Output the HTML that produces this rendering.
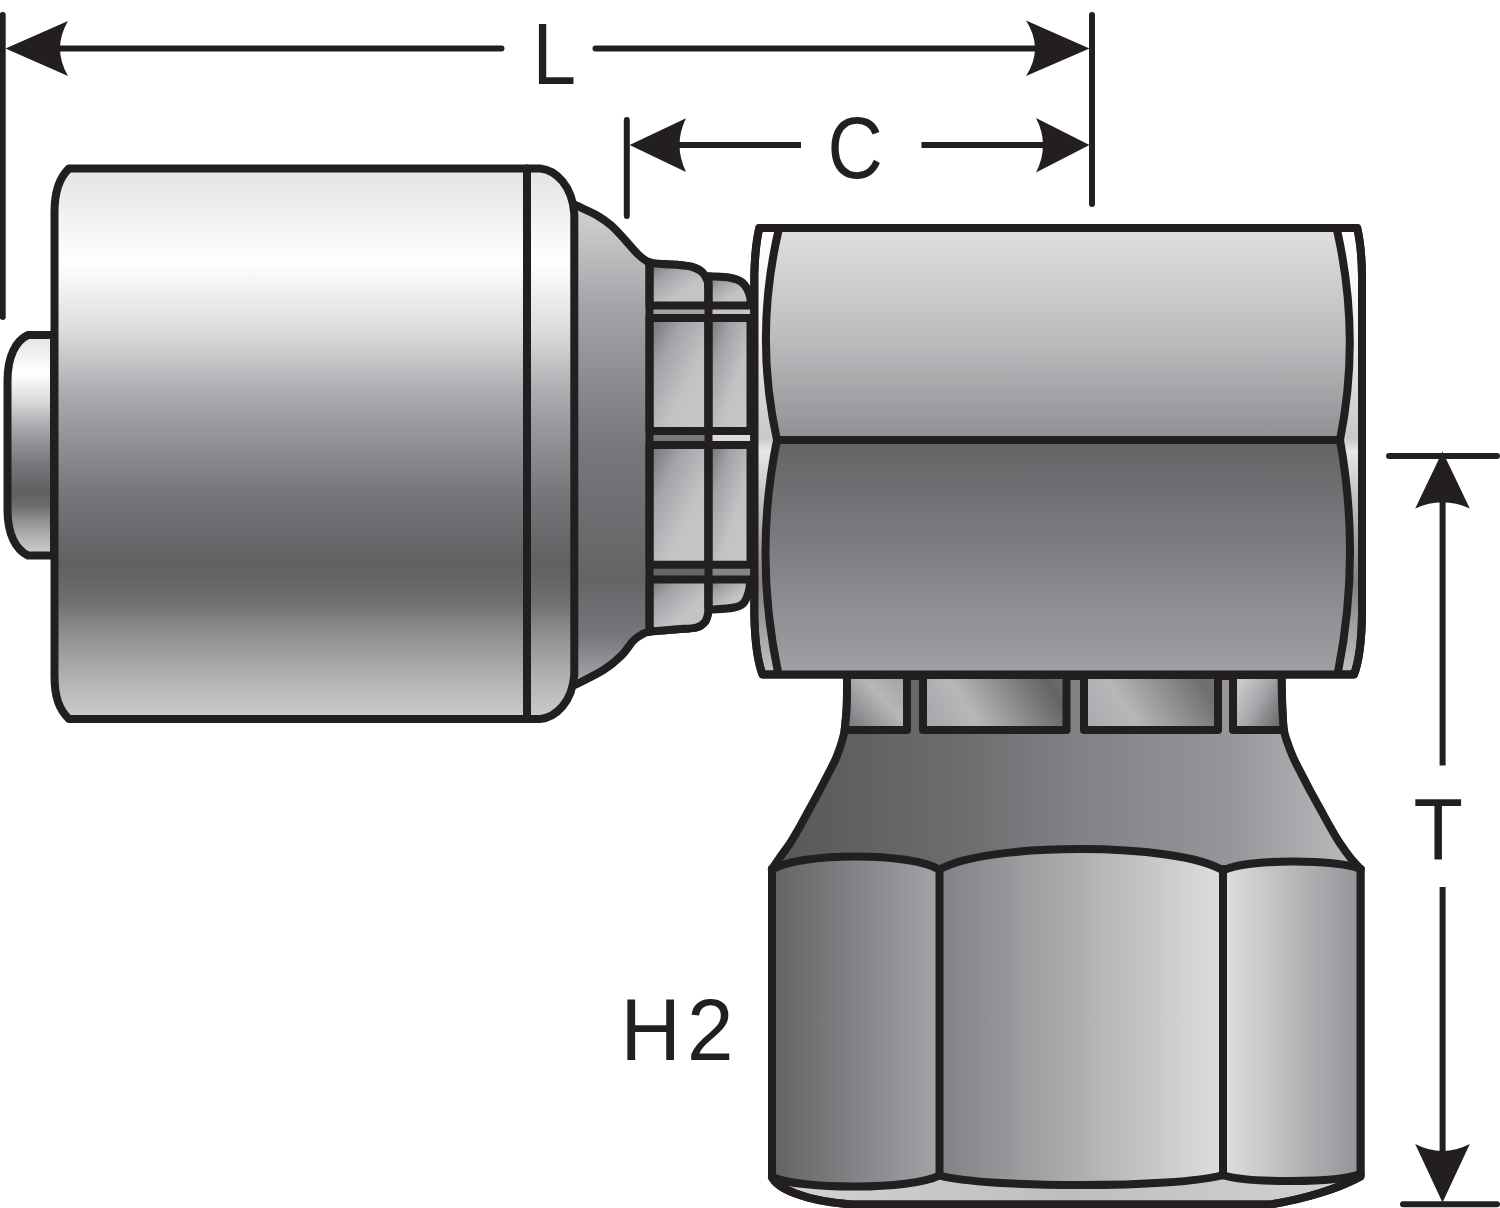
<!DOCTYPE html>
<html lang="en">
<head>
<meta charset="utf-8">
<title>Hydraulic fitting dimension diagram</title>
<style>
  html, body { margin: 0; padding: 0; background: #ffffff; }
  body { width: 1500px; height: 1208px; overflow: hidden; font-family: "Liberation Sans", sans-serif; }
  svg { display: block; }
  .o { stroke: #231f20; stroke-width: 8; stroke-linejoin: round; stroke-linecap: round; }
  .ol { fill: none; stroke: #231f20; stroke-width: 8; stroke-linejoin: round; stroke-linecap: round; }
  .d { fill: none; stroke: #231f20; stroke-width: 6; stroke-linecap: round; }
  .db { fill: none; stroke: #231f20; stroke-width: 6; stroke-linecap: butt; }
  .a { fill: #231f20; stroke: none; }
  text { font-family: "Liberation Sans", sans-serif; fill: #231f20; }
</style>
</head>
<body>
<svg width="1500" height="1208" viewBox="0 0 1500 1208">
<defs>
  <!-- ferrule: cylinder shading -->
  <linearGradient id="gFer" gradientUnits="userSpaceOnUse" x1="0" y1="170" x2="0" y2="718">
    <stop offset="0" stop-color="#e3e4e5"/>
    <stop offset="0.166" stop-color="#ffffff"/>
    <stop offset="0.29" stop-color="#dcddde"/>
    <stop offset="0.41" stop-color="#a9abae"/>
    <stop offset="0.50" stop-color="#8e9093"/>
    <stop offset="0.585" stop-color="#77787b"/>
    <stop offset="0.72" stop-color="#5f6062"/>
    <stop offset="0.785" stop-color="#6d6e70"/>
    <stop offset="0.84" stop-color="#8a8c8e"/>
    <stop offset="0.93" stop-color="#b1b3b5"/>
    <stop offset="1" stop-color="#cbcccd"/>
  </linearGradient>
  <linearGradient id="gStub" gradientUnits="userSpaceOnUse" x1="0" y1="337" x2="0" y2="553">
    <stop offset="0" stop-color="#e3e4e5"/>
    <stop offset="0.166" stop-color="#ffffff"/>
    <stop offset="0.29" stop-color="#dcddde"/>
    <stop offset="0.41" stop-color="#a9abae"/>
    <stop offset="0.50" stop-color="#8e9093"/>
    <stop offset="0.585" stop-color="#77787b"/>
    <stop offset="0.72" stop-color="#5f6062"/>
    <stop offset="0.785" stop-color="#6d6e70"/>
    <stop offset="0.84" stop-color="#8a8c8e"/>
    <stop offset="0.93" stop-color="#b1b3b5"/>
    <stop offset="1" stop-color="#cbcccd"/>
  </linearGradient>
  <linearGradient id="gCone" gradientUnits="userSpaceOnUse" x1="0" y1="205" x2="0" y2="684">
    <stop offset="0" stop-color="#d1d3d4"/>
    <stop offset="0.22" stop-color="#a1a3a6"/>
    <stop offset="0.5" stop-color="#77787b"/>
    <stop offset="0.78" stop-color="#636466"/>
    <stop offset="0.9" stop-color="#77787b"/>
    <stop offset="1" stop-color="#a7a9ac"/>
  </linearGradient>
  <linearGradient id="gBack2" gradientUnits="userSpaceOnUse" x1="0" y1="276" x2="0" y2="610">
    <stop offset="0" stop-color="#bcbec0"/>
    <stop offset="0.48" stop-color="#dcddde"/>
    <stop offset="0.9" stop-color="#808285"/>
    <stop offset="1" stop-color="#a7a9ac"/>
  </linearGradient>
  <!-- diagonal metallic for collars -->
  <linearGradient id="gCol" x1="0" y1="0" x2="1" y2="1">
    <stop offset="0" stop-color="#6d6e70"/>
    <stop offset="0.28" stop-color="#a1a3a6"/>
    <stop offset="0.62" stop-color="#c1c3c5"/>
    <stop offset="1" stop-color="#c4c6c8"/>
  </linearGradient>
  <linearGradient id="gS1" gradientUnits="userSpaceOnUse" x1="851" y1="730" x2="905" y2="680">
    <stop offset="0" stop-color="#77787b"/>
    <stop offset="0.6" stop-color="#b5b7b9"/>
    <stop offset="1" stop-color="#a1a3a6"/>
  </linearGradient>
  <linearGradient id="gS2" gradientUnits="userSpaceOnUse" x1="927" y1="740" x2="1050" y2="660">
    <stop offset="0" stop-color="#a1a3a6"/>
    <stop offset="0.35" stop-color="#b5b7b9"/>
    <stop offset="0.9" stop-color="#636466"/>
    <stop offset="1" stop-color="#6d6e70"/>
  </linearGradient>
  <linearGradient id="gS3" gradientUnits="userSpaceOnUse" x1="1088" y1="740" x2="1205" y2="660">
    <stop offset="0" stop-color="#a7a9ac"/>
    <stop offset="0.35" stop-color="#b5b7b9"/>
    <stop offset="0.9" stop-color="#6d6e70"/>
    <stop offset="1" stop-color="#77787b"/>
  </linearGradient>
  <linearGradient id="gS4" gradientUnits="userSpaceOnUse" x1="1237" y1="690" x2="1282" y2="715">
    <stop offset="0" stop-color="#c7c8ca"/>
    <stop offset="0.45" stop-color="#a7a9ac"/>
    <stop offset="1" stop-color="#6d6e70"/>
  </linearGradient>
  <!-- horizontal hex -->
  <linearGradient id="gHexSide" gradientUnits="userSpaceOnUse" x1="0" y1="232" x2="0" y2="670">
    <stop offset="0" stop-color="#ffffff"/>
    <stop offset="0.2" stop-color="#f1f2f2"/>
    <stop offset="0.47" stop-color="#c7c8ca"/>
    <stop offset="0.5" stop-color="#e6e7e8"/>
    <stop offset="0.8" stop-color="#808285"/>
    <stop offset="1" stop-color="#bcbec0"/>
  </linearGradient>
  <linearGradient id="gHexUp" gradientUnits="userSpaceOnUse" x1="0" y1="232" x2="0" y2="436">
    <stop offset="0" stop-color="#dcddde"/>
    <stop offset="0.5" stop-color="#bcbec0"/>
    <stop offset="1" stop-color="#909295"/>
  </linearGradient>
  <linearGradient id="gHexLo" gradientUnits="userSpaceOnUse" x1="0" y1="444" x2="0" y2="670">
    <stop offset="0" stop-color="#636466"/>
    <stop offset="0.5" stop-color="#7e8083"/>
    <stop offset="1" stop-color="#9ea0a3"/>
  </linearGradient>
  <!-- vertical stem & nut -->
  <linearGradient id="gStem" gradientUnits="userSpaceOnUse" x1="790" y1="0" x2="1345" y2="0">
    <stop offset="0" stop-color="#58595b"/>
    <stop offset="0.32" stop-color="#6d6e70"/>
    <stop offset="0.52" stop-color="#808285"/>
    <stop offset="0.78" stop-color="#939598"/>
    <stop offset="1" stop-color="#b5b7b9"/>
  </linearGradient>
  <linearGradient id="gNutL" gradientUnits="userSpaceOnUse" x1="776" y1="0" x2="936" y2="0">
    <stop offset="0" stop-color="#636466"/>
    <stop offset="1" stop-color="#a1a3a6"/>
  </linearGradient>
  <linearGradient id="gNutM" gradientUnits="userSpaceOnUse" x1="943" y1="0" x2="1219" y2="0">
    <stop offset="0" stop-color="#808285"/>
    <stop offset="1" stop-color="#dcddde"/>
  </linearGradient>
  <linearGradient id="gNutR" gradientUnits="userSpaceOnUse" x1="1227" y1="0" x2="1357" y2="0">
    <stop offset="0" stop-color="#dcddde"/>
    <stop offset="1" stop-color="#939598"/>
  </linearGradient>
  <linearGradient id="gNutB" gradientUnits="userSpaceOnUse" x1="776" y1="0" x2="1357" y2="0">
    <stop offset="0" stop-color="#d1d3d4"/>
    <stop offset="0.5" stop-color="#bcbec0"/>
    <stop offset="1" stop-color="#d1d3d4"/>
  </linearGradient>
</defs>

<rect x="0" y="0" width="1500" height="1208" fill="#ffffff"/>

<!-- ===== hose stub (far left) ===== -->
<g id="stub">
  <path class="o" fill="url(#gStub)" d="M 54,335 L 28,335 C 16,340.5 7.5,356 7.5,381 L 7.5,509.5 C 7.5,534.5 16,550 28,555.5 L 54,555.5 Z"/>
</g>

<!-- ===== neck cone between ferrule and collars ===== -->
<g id="cone">
  <path fill="url(#gCone)" d="M 574.3,204.5 C 575.0,204.8 574.6,204.6 578.3,206.4 C 582.0,208.2 591.2,212.0 596.7,215.2 C 602.2,218.4 606.4,221.2 611.3,225.5 C 616.2,229.8 621.6,236.2 626.0,240.9 C 630.4,245.7 634.3,250.7 637.7,254.0 C 641.1,257.4 643.6,259.4 646.5,261.0 C 649.4,262.6 650.2,263.0 655.3,263.6 C 660.4,264.2 671.2,264.3 677.3,264.8 C 683.4,265.3 687.9,265.6 692.0,266.8 C 696.1,268.0 699.4,269.6 702.0,272.0 C 704.6,274.4 706.4,277.7 707.5,281.0 C 708.6,284.3 708.3,290.2 708.5,292.0 L 708.5,600 C 708.5,602.0 708.8,608.4 708.2,612.0 C 707.7,615.6 707.2,619.0 705.2,621.6 C 703.2,624.2 701.0,626.2 696.4,627.5 C 691.8,628.8 684.9,628.6 677.3,629.2 C 669.7,629.9 656.9,630.5 651.0,631.4 C 645.1,632.3 645.0,632.8 642.0,634.4 C 639.0,636.0 636.7,637.2 633.3,640.7 C 629.9,644.2 626.5,650.5 621.6,655.3 C 616.7,660.1 611.1,665.1 604.0,669.7 C 596.9,674.3 584.0,680.5 579.0,683.0 C 574.0,685.5 575.1,684.7 574.3,685.0 Z"/>
  <path class="ol" d="M 574.3,204.5 C 575.0,204.8 574.6,204.6 578.3,206.4 C 582.0,208.2 591.2,212.0 596.7,215.2 C 602.2,218.4 606.4,221.2 611.3,225.5 C 616.2,229.8 621.6,236.2 626.0,240.9 C 630.4,245.7 634.3,250.7 637.7,254.0 C 641.1,257.4 643.6,259.4 646.5,261.0 C 649.4,262.6 650.2,263.0 655.3,263.6 C 660.4,264.2 671.2,264.3 677.3,264.8 C 683.4,265.3 687.9,265.6 692.0,266.8 C 696.1,268.0 699.4,269.6 702.0,272.0 C 704.6,274.4 706.4,277.7 707.5,281.0 C 708.6,284.3 708.3,290.2 708.5,292.0"/>
  <path class="ol" d="M 574.3,685.0 C 575.1,684.7 574.0,685.5 579.0,683.0 C 584.0,680.5 596.9,674.3 604.0,669.7 C 611.1,665.1 616.7,660.1 621.6,655.3 C 626.5,650.5 629.9,644.2 633.3,640.7 C 636.7,637.2 639.0,636.0 642.0,634.4 C 645.0,632.8 645.1,632.3 651.0,631.4 C 656.9,630.5 669.7,629.9 677.3,629.2 C 684.9,628.6 691.8,628.8 696.4,627.5 C 701.0,626.2 703.2,624.2 705.2,621.6 C 707.2,619.0 707.7,615.6 708.2,612.0 C 708.8,608.4 708.5,602.0 708.5,600.0"/>
</g>


<!-- ===== collars (crimp rings) between cone and hex ===== -->
<g id="collars">
  <!-- backing behind second column -->
  <path fill="url(#gBack2)" d="M 708.5,276.2 C 709.2,276.2 709.1,276.2 712.5,276.4 C 715.9,276.6 724.1,276.7 728.7,277.5 C 733.4,278.3 737.4,279.4 740.4,281.2 C 743.4,283.0 745.4,285.7 747.0,288.5 C 748.6,291.3 749.7,295.2 750.3,298.0 C 750.9,300.8 750.5,304.2 750.5,305.5 L 750.5,579.4 C 750.2,581.5 749.7,588.3 748.5,592.3 C 747.3,596.3 745.9,600.7 743.3,603.3 C 740.7,605.9 738.1,606.7 733.0,607.7 C 727.9,608.7 716.6,609.1 712.5,609.4 C 708.4,609.7 709.2,609.6 708.5,609.6 Z"/>
  <!-- column 1 -->
  <path class="o" fill="url(#gCol)" d="M 649.5,305.5 L 649.5,262.4 C 650.5,262.6 650.7,263.2 655.3,263.6 C 659.9,264.0 671.2,264.3 677.3,264.8 C 683.4,265.3 687.9,265.6 692.0,266.8 C 696.1,268.0 699.4,269.6 702.0,272.0 C 704.6,274.4 706.4,277.7 707.5,281.0 C 708.6,284.3 708.3,290.2 708.5,292.0 L 708.5,305.5 Z"/>
  <path class="o" fill="url(#gCol)" d="M 649.5,318 L 708.5,318 L 708.5,431 L 649.5,431 Z"/>
  <path class="o" fill="url(#gCol)" d="M 649.5,445 L 708.5,445 L 708.5,564.7 L 649.5,564.7 Z"/>
  <path class="o" fill="url(#gCol)" d="M 649.5,579.4 L 708.5,579.4 L 708.5,600 C 708.5,602.0 708.8,608.4 708.2,612.0 C 707.7,615.6 707.2,619.0 705.2,621.6 C 703.2,624.2 701.0,626.2 696.4,627.5 C 691.8,628.8 684.9,628.6 677.3,629.2 C 669.7,629.9 655.6,631.0 651.0,631.4 C 646.4,631.8 649.8,631.7 649.5,631.7 Z"/>
  <!-- column 2 -->
  <path class="o" fill="url(#gCol)" d="M 708.5,305.5 L 708.5,276.2 C 709.2,276.2 709.1,276.2 712.5,276.4 C 715.9,276.6 724.1,276.7 728.7,277.5 C 733.4,278.3 737.4,279.4 740.4,281.2 C 743.4,283.0 745.4,285.7 747.0,288.5 C 748.6,291.3 749.7,295.2 750.3,298.0 C 750.9,300.8 750.5,304.2 750.5,305.5 Z"/>
  <path class="o" fill="url(#gCol)" d="M 708.5,318 L 750.5,318 L 750.5,431 L 708.5,431 Z"/>
  <path class="o" fill="url(#gCol)" d="M 708.5,445 L 750.5,445 L 750.5,564.7 L 708.5,564.7 Z"/>
  <path class="o" fill="url(#gCol)" d="M 708.5,579.4 L 750.5,579.4 C 750.2,581.5 749.7,588.3 748.5,592.3 C 747.3,596.3 745.9,600.7 743.3,603.3 C 740.7,605.9 738.1,606.7 733.0,607.7 C 727.9,608.7 716.6,609.1 712.5,609.4 C 708.4,609.7 709.2,609.6 708.5,609.6 Z"/>
  <path class="ol" d="M 708.5,285 L 708.5,606"/>
  <path class="ol" d="M 649.5,262.4 L 649.5,631.7"/>
</g>

<!-- ===== horizontal hex (swivel body) ===== -->
<g id="hexH">
  <path class="o" fill="url(#gHexSide)" d="M 759.3,228 L 1357.2,228 C 1360,240 1361.7,255 1362,275 L 1362,615 C 1361.5,645 1358,664 1354,674.5 L 762.5,674.5 C 758.5,664 755,645 754.3,615 L 754.3,275 C 754.8,255 756.5,240 759.3,228 Z"/>
  <path fill="url(#gHexUp)" d="M 778.6,232 Q 754,336 777,440 L 1340,440 Q 1361,336 1337,232 Z"/>
  <path fill="url(#gHexLo)" d="M 777,440 Q 753.5,555 778,672 L 1338,672 Q 1361,557 1340,440 Z"/>
  <path class="ol" d="M 778.6,230 Q 754,336 777,440 Q 753.5,555 778,672"/>
  <path class="ol" d="M 1337,230 Q 1361,336 1340,440 Q 1361,557 1338,672"/>
  <path class="ol" d="M 777,440 L 1340,440"/>
  <path class="ol" d="M 759.3,228 L 1357.2,228 C 1360,240 1361.7,255 1362,275 L 1362,615 C 1361.5,645 1358,664 1354,674.5 L 762.5,674.5 C 758.5,664 755,645 754.3,615 L 754.3,275 C 754.8,255 756.5,240 759.3,228 Z"/>
</g>

<!-- ===== ferrule ===== -->
<g id="ferrule">
  <path class="o" fill="url(#gFer)" d="M 69,168.5 L 540,168.5 C 556,170 572.5,186 574.3,214 L 574.3,674 C 572.5,702 556,717.5 540,719 L 69,719 C 59,709.5 54.5,697 54.5,676 L 54.5,212 C 54.5,191 59,178 69,168.5 Z"/>
  <path class="ol" d="M 527,168.5 L 527,719"/>
</g>


<!-- ===== vertical stem (cone + crimp rings) ===== -->
<g id="stem">
  <path class="o" fill="url(#gStem)" d="M 847.0,676.0 C 847.0,680.8 847.1,696.4 846.8,705.0 C 846.5,713.6 845.7,721.6 845.0,727.4 C 844.3,733.1 843.9,734.6 842.5,739.5 C 841.1,744.4 838.9,751.2 836.5,757.0 C 834.1,762.8 830.9,768.5 828.0,774.3 C 825.1,780.1 822.1,785.9 819.0,791.7 C 815.9,797.5 812.7,803.2 809.5,809.0 C 806.3,814.8 803.3,820.6 800.0,826.4 C 796.7,832.2 793.1,838.6 789.7,843.8 C 786.3,849.0 782.6,853.5 779.6,857.7 C 776.6,861.9 773.3,867.1 772.0,869.0 L 1360.5,869 C 1358.8,867.1 1353.8,861.9 1350.4,857.7 C 1347.0,853.5 1343.7,849.0 1340.3,843.8 C 1336.9,838.6 1333.2,832.2 1329.9,826.4 C 1326.6,820.6 1323.5,814.8 1320.3,809.0 C 1317.1,803.2 1313.8,797.5 1310.7,791.7 C 1307.6,785.9 1304.7,780.1 1301.7,774.3 C 1298.8,768.5 1295.5,762.8 1293.0,757.0 C 1290.5,751.2 1288.0,744.4 1286.4,739.5 C 1284.8,734.6 1284.2,733.1 1283.5,727.4 C 1282.8,721.6 1282.5,713.6 1282.2,705.0 C 1281.9,696.4 1281.6,680.8 1281.5,676.0 Z"/>
  <path class="o" fill="url(#gS1)" d="M 907,675 L 907,730 L 844.7,730 C 844.8,729.6 844.6,731.6 845.0,727.4 C 845.4,723.2 846.5,713.7 846.8,705.0 C 847.1,696.3 847.0,680.0 847.0,675.0 Z"/>
  <path class="o" fill="url(#gS2)" d="M 923,675 L 1066.5,675 L 1066.5,730 L 923,730 Z"/>
  <path class="o" fill="url(#gS3)" d="M 1084,675 L 1218,675 L 1218,730 L 1084,730 Z"/>
  <path class="o" fill="url(#gS4)" d="M 1233,675 L 1281.5,675 C 1281.6,680.0 1281.9,696.3 1282.2,705.0 C 1282.5,713.7 1283.2,723.2 1283.5,727.4 C 1283.8,731.6 1283.9,729.6 1284.0,730.0 L 1233,730 Z"/>
</g>

<!-- ===== vertical hex nut ===== -->
<g id="nut">
  <path class="o" fill="url(#gNutB)" d="M 772,869 L 772,1177 C 777,1188 803,1201 852,1204.5 L 1270,1204.5 C 1305,1199 1340,1188 1360.5,1176.5 L 1360.5,869 Z"/>
  <path fill="url(#gNutL)" d="M 772,869.7 C 800,852.1 911,852.1 939.5,869.7 L 939.5,1175.5 C 911,1190 800,1190 772,1177 Z"/>
  <path fill="url(#gNutM)" d="M 939.5,869.7 C 985,842 1177,842 1223,870.5 L 1223,1175 C 1177,1188.3 985,1188.3 939.5,1175.5 Z"/>
  <path fill="url(#gNutR)" d="M 1223,870.5 C 1246,858.7 1337,858.7 1360.5,869 L 1360.5,1174 C 1337,1183.2 1246,1183.2 1223,1175 Z"/>
  <path class="ol" d="M 772,869.7 C 800,852.1 911,852.1 939.5,869.7 C 985,842 1177,842 1223,870.5 C 1246,858.7 1337,858.7 1360.5,869"/>
  <path class="ol" d="M 772,1177 C 800,1190 911,1190 939.5,1175.5 C 985,1188.3 1177,1188.3 1223,1175 C 1246,1183.2 1337,1183.2 1360.5,1174"/>
  <path class="ol" d="M 939.5,869.7 L 939.5,1175.5 M 1223,870.5 L 1223,1175"/>
  <path class="ol" d="M 772,869 L 772,1177 C 777,1188 803,1201 852,1204.5 L 1270,1204.5 C 1305,1199 1340,1188 1360.5,1176.5 L 1360.5,869"/>
</g>

<!-- ===== dimension lines ===== -->
<g id="dims">
  <!-- L -->
  <path class="d" d="M 2.7,15 L 2.7,317"/>
  <path class="d" d="M 1092,15 L 1092,204"/>
  <path class="d" d="M 58,48.5 L 501.5,48.5 M 595.5,48.5 L 1038,48.5"/>
  <path class="a" d="M 5.5,48.5 L 68,21 Q 52,48.5 68,76 Z"/>
  <path class="a" d="M 1089.5,48.5 L 1026,20.5 Q 1044,48.5 1026,76 Z"/>
  <!-- C -->
  <path class="d" d="M 626.8,120 L 626.8,216"/>
  <path class="db" d="M 678,145 L 801,145 M 921.5,145 L 1044,145"/>
  <path class="a" d="M 629.6,145 L 686,118.3 Q 673,145 686,172 Z"/>
  <path class="a" d="M 1089.5,145 L 1036,118 Q 1050,145 1036,172.5 Z"/>
  <!-- T -->
  <path class="d" d="M 1389,456 L 1497,456"/>
  <path class="d" d="M 1403,1204.2 L 1497,1204.2"/>
  <path class="db" d="M 1442.6,500 L 1442.6,765.5 M 1442.6,887 L 1442.6,1153"/>
  <path class="a" d="M 1442.5,451.5 L 1415.2,508.5 Q 1442.5,496 1469.8,508.5 Z"/>
  <path class="a" d="M 1442.5,1202.5 L 1415.2,1144 Q 1442.5,1158 1469.8,1144 Z"/>
</g>

<!-- ===== labels ===== -->
<g id="labels">
  <text id="tL" transform="translate(532.5,84.4) scale(0.89,1)" font-size="88">L</text>
  <text id="tC" transform="translate(827.5,178) scale(0.87,1)" font-size="88">C</text>
  <text id="tT" transform="translate(1413.5,859) scale(0.92,1)" font-size="88">T</text>
  <text id="tH2" transform="translate(620.5,1059.8) scale(0.95,1)" font-size="88"><tspan x="0">H</tspan><tspan x="70">2</tspan></text>
</g>

</svg>
</body>
</html>
